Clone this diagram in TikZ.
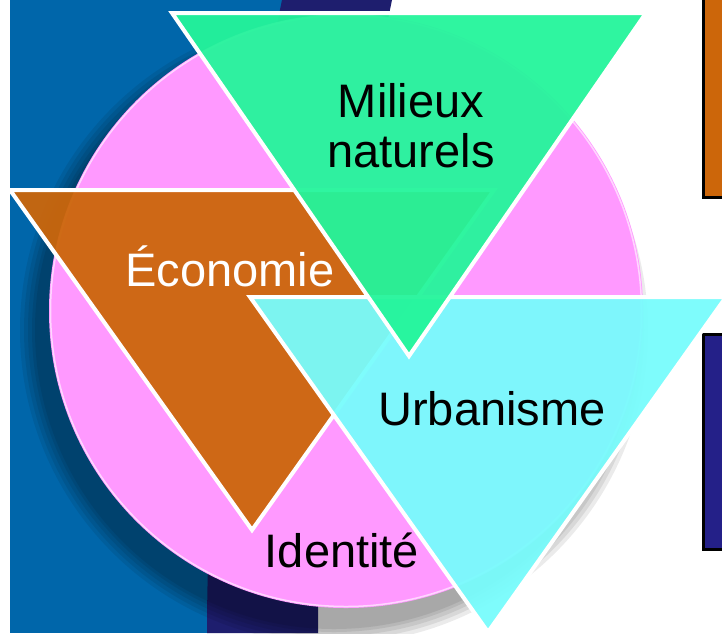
\documentclass[tikz,border=0pt]{standalone}
\usepackage{fontspec}
\setmainfont{Liberation Sans}
\definecolor{bgblue}{RGB}{0,102,170}
\definecolor{navy}{RGB}{30,30,110}
\definecolor{navybox}{RGB}{36,32,136}
\definecolor{pinkc}{RGB}{255,153,255}
\definecolor{greent}{RGB}{36,245,155}
\definecolor{oranget}{RGB}{204,102,10}
\definecolor{cyant}{RGB}{120,252,252}
\tikzset{
  tri/.style={draw=white, line width=4pt, line join=miter, fill opacity=0.95},
  lbl/.style={font=\fontsize{47}{50}\selectfont, anchor=base, align=center},
  sidebox/.style={draw=black, line width=3pt}
}
\begin{document}
\begin{tikzpicture}[x=1pt,y=-1pt]
\useasboundingbox (0,0) rectangle (722,633);
\begin{scope}
\clip (0,0) rectangle (722,633);
% background
\fill[white] (0,0) rectangle (722,633);
\fill[bgblue] (10,0) rectangle (300,633);
\fill[navy] (282,0) -- (392,0) .. controls (340,250) and (318,450) .. (318,633) -- (207,633) .. controls (207,450) and (230,250) .. (282,0) -- cycle;
% side boxes
\draw[sidebox, fill=oranget] (703,-5) rectangle (730,197);
\draw[sidebox, fill=navybox] (703,334) rectangle (730,549);
% shadow of circle
\foreach \r in {314,310,306,302,299}{
  \fill[black, opacity=0.08] (334,330) circle (\r);
}
% circle
\fill[pinkc] (346,311) circle (297);
\draw[white, opacity=0.6, line width=1.5pt] (346,311) circle (295.5);
% triangles
\filldraw[tri, fill=oranget] (10,190) -- (494,190) -- (252,530) -- cycle;
\filldraw[tri, fill=cyant] (250,297) -- (726,297) -- (488,632) -- cycle;
\filldraw[tri, fill=greent] (172,13) -- (646,13) -- (409,356) -- cycle;
\end{scope}
% labels
\node[lbl] (milieux) at (411,167) {Milieux\\naturels};
\node[lbl, text=white] (economie) at (230,286) {Économie};
\node[lbl] (urbanisme) at (492,425) {Urbanisme};
\node[lbl] (identite) at (342,567) {Identité};
\end{tikzpicture}
\end{document}
